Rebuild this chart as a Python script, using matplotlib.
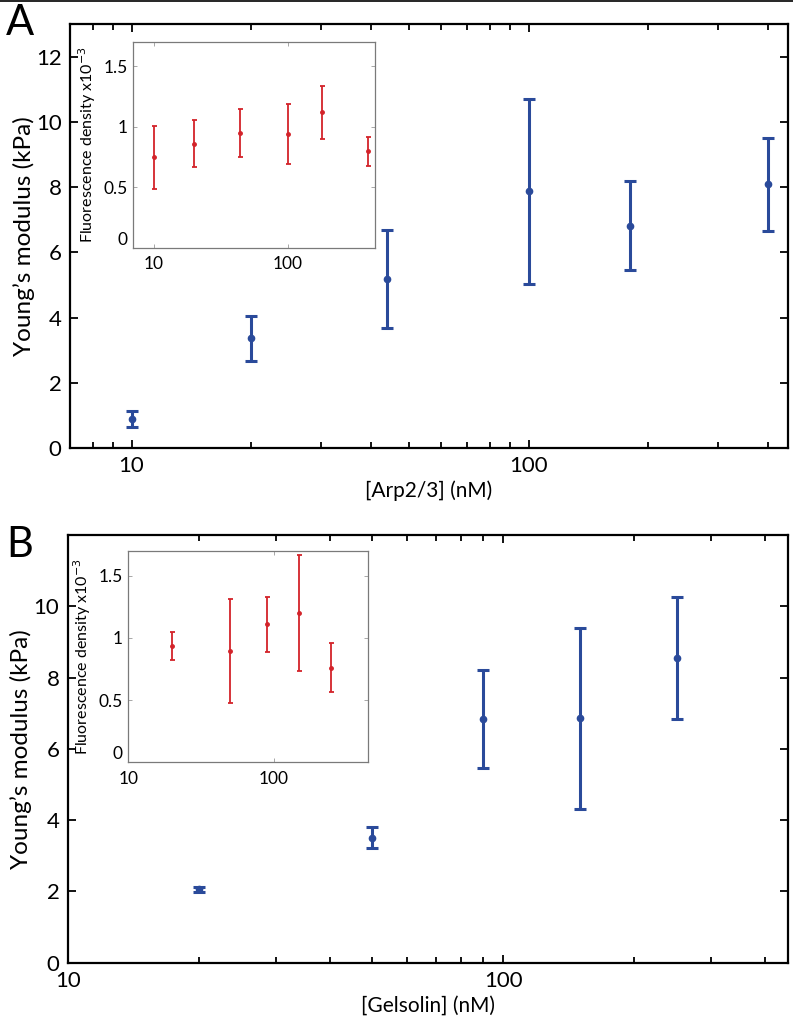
import numpy as np
import matplotlib
matplotlib.use('Agg')
import matplotlib.pyplot as plt
from matplotlib.lines import Line2D
from matplotlib.ticker import FixedLocator, NullFormatter, LogLocator

plt.rcParams['font.family'] = ['Lato', 'DejaVu Sans']

# Panel A: Arp2/3 titration
arp_conc = [10, 20, 44, 100, 180, 400]
arp_modulus = [0.88, 3.36, 5.18, 7.87, 6.82, 8.08]
arp_modulus_err = [0.25, 0.70, 1.50, 2.83, 1.37, 1.42]
arp_fluo = [0.75, 0.86, 0.95, 0.94, 1.12, 0.80]
arp_fluo_err = [0.26, 0.195, 0.20, 0.25, 0.22, 0.12]

# Panel B: gelsolin titration
gel_conc = [20, 50, 90, 150, 250]
gel_modulus = [2.06, 3.51, 6.83, 6.86, 8.55]
gel_modulus_err = [0.07, 0.30, 1.37, 2.54, 1.70]
gel_fluo = [0.935, 0.895, 1.11, 1.20, 0.76]
gel_fluo_err = [0.115, 0.415, 0.22, 0.47, 0.195]

blue = '#2A4A9A'
red = '#D3232A'


def main_panel(fig, rect, x, y, yerr, xlim, ylim, yticks, xlabel, letter, letter_xy):
    ax = fig.add_axes(rect)
    ax.errorbar(x, y, yerr=yerr, fmt='o', color=blue, ms=4.5, lw=2.2,
                capsize=4.5, capthick=2.2, elinewidth=2.2)
    ax.set_xscale('log')
    ax.set_xlim(*xlim)
    ax.set_ylim(*ylim)
    ax.set_yticks(yticks)
    ax.xaxis.set_major_locator(FixedLocator([10, 100]))
    ax.xaxis.set_minor_locator(LogLocator(base=10, subs=np.arange(2, 10)))
    ax.xaxis.set_minor_formatter(NullFormatter())
    ax.set_xticklabels(['10', '100'])
    ax.tick_params(which='both', direction='in', top=True, right=True,
                   labelsize=16, width=1.3)
    ax.tick_params(which='major', length=6, pad=6)
    ax.tick_params(which='minor', length=4)
    for s in ax.spines.values():
        s.set_linewidth(1.6)
    ax.set_xlabel(xlabel, fontsize=15, labelpad=3)
    ax.set_ylabel('Young\u2019s modulus (kPa)', fontsize=17.5, labelpad=1)
    fig.text(letter_xy[0], letter_xy[1], letter, fontsize=30, ha='left', va='center')
    return ax


def inset_panel(fig, rect, x, y, yerr, xlim):
    ax = fig.add_axes(rect)
    ax.errorbar(x, y, yerr=yerr, fmt='o', color=red, ms=2.5, lw=1.3,
                capsize=1.8, capthick=1.3, elinewidth=1.3)
    ax.set_xscale('log')
    ax.set_xlim(*xlim)
    ax.set_ylim(0, 1.7)
    ax.set_yticks([0, 0.5, 1, 1.5])
    ax.set_yticklabels(['0', '0.5', '1', '1.5'])
    ax.xaxis.set_major_locator(FixedLocator([10, 100]))
    ax.xaxis.set_minor_locator(FixedLocator([]))
    ax.set_xticklabels(['10', '100'])
    ax.tick_params(which='both', direction='in', top=True, right=True,
                   labelsize=12.5, length=3, width=0.6, color='#999999')
    ax.tick_params(axis='x', pad=6)
    ax.tick_params(axis='y', pad=4)
    # lift the "0" a little so it clears the "10" below it, as in the original
    ax.get_yticklabels()[0].set_verticalalignment('bottom')
    for s in ax.spines.values():
        s.set_linewidth(0.9)
        s.set_color('#7a7a7a')
    ax.set_ylabel('Fluorescence density x10$^{-3}$', fontsize=11.5, labelpad=4)
    return ax


fig = plt.figure(figsize=(7.93, 10.27), dpi=100)
fig.add_artist(Line2D([0, 1], [0.9992, 0.9992], color='black', lw=1.2))

main_panel(fig, [0.0883, 0.5638, 0.9054, 0.4128], arp_conc, arp_modulus, arp_modulus_err,
           (7, 450), (0, 13), [0, 2, 4, 6, 8, 10, 12], '[Arp2/3] (nM)', 'A', (0.008, 0.978))
inset_panel(fig, [0.1677, 0.7585, 0.3052, 0.2006], arp_conc, arp_fluo, arp_fluo_err, (7, 450))

main_panel(fig, [0.0854, 0.0626, 0.9079, 0.4165], gel_conc, gel_modulus, gel_modulus_err,
           (10, 450), (0, 12), [0, 2, 4, 6, 8, 10], '[Gelsolin] (nM)', 'B', (0.008, 0.469))
inset_panel(fig, [0.1618, 0.2577, 0.3027, 0.2060], gel_conc, gel_fluo, gel_fluo_err, (10, 450))

fig.savefig('out.png', dpi=100)
